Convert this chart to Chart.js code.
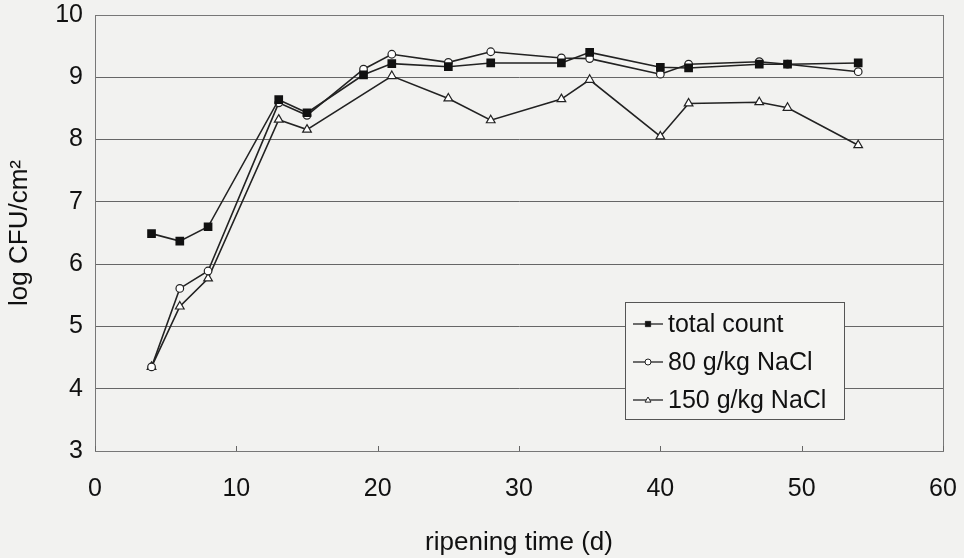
<!DOCTYPE html>
<html>
<head>
<meta charset="utf-8">
<script src="https://cdn.jsdelivr.net/npm/chart.js@4/dist/chart.umd.min.js"></script>
<style>
  html, body { margin: 0; padding: 0; background: #f2f2f0; }
  #wrap { width: 964px; height: 558px; position: relative; }
</style>
</head>
<body>
<div id="wrap"><canvas id="c" width="964" height="558"></canvas></div>
<script>
// ---- data ----
const seriesNames = ["total count", "80 g/kg NaCl", "150 g/kg NaCl"];
const daysTotal = [4, 6, 8, 13, 15, 19, 21, 25, 28, 33, 35, 40, 42, 47, 49, 54];
const totalCount = [6.49, 6.37, 6.60, 8.64, 8.43, 9.04, 9.22, 9.17, 9.23, 9.23, 9.40, 9.16, 9.15, 9.21, 9.21, 9.23];
const days80 = [4, 6, 8, 13, 15, 19, 21, 25, 28, 33, 35, 40, 42, 47, 49, 54];
const nacl80 = [4.35, 5.61, 5.89, 8.59, 8.39, 9.13, 9.37, 9.24, 9.41, 9.31, 9.30, 9.05, 9.21, 9.25, 9.21, 9.09];
const days150 = [4, 6, 8, 13, 15, 21, 25, 28, 33, 35, 40, 42, 47, 49, 54];
const nacl150 = [4.35, 5.32, 5.77, 8.32, 8.16, 9.02, 8.66, 8.31, 8.65, 8.96, 8.05, 8.58, 8.60, 8.51, 7.91];
const xTicks = [0, 10, 20, 30, 40, 50, 60];
const yTicks = [3, 4, 5, 6, 7, 8, 9, 10];
const xTitle = "ripening time (d)";
const yTitle = "log CFU/cm\u00B2";

const FONT = "'Liberation Sans', Arial, sans-serif";
const INK = "#222";

function pts(xs, ys) { return xs.map((x, i) => ({ x: x, y: ys[i] })); }

const bgPlugin = {
  id: 'bg',
  beforeDraw(chart) {
    const ctx = chart.ctx;
    ctx.save();
    ctx.fillStyle = '#f2f2f0';
    ctx.fillRect(0, 0, chart.width, chart.height);
    ctx.restore();
  },
  afterDatasetsDraw(chart) {
    const a = chart.chartArea, ctx = chart.ctx;
    ctx.save();
    ctx.strokeStyle = '#777';
    ctx.lineWidth = 1;
    ctx.strokeRect(a.left + 0.5, a.top + 0.5, a.right - a.left, a.bottom - a.top);
    const xs = chart.scales.x;
    ctx.strokeStyle = '#666';
    xTicks.forEach(v => {
      const px = Math.round(xs.getPixelForValue(v)) + 0.5;
      ctx.beginPath(); ctx.moveTo(px, a.bottom); ctx.lineTo(px, a.bottom - 5); ctx.stroke();
    });
    ctx.restore();
  }
};

const legendPlugin = {
  id: 'boxLegend',
  afterDraw(chart) {
    const ctx = chart.ctx;
    const bx = 625, by = 302, bw = 219, bh = 117;
    ctx.save();
    ctx.fillStyle = '#f4f4f2';
    ctx.fillRect(bx, by, bw, bh);
    ctx.strokeStyle = '#555';
    ctx.lineWidth = 1;
    ctx.strokeRect(bx + 0.5, by + 0.5, bw, bh);
    chart.data.datasets.forEach((ds, i) => {
      const cy = by + 22 + i * 38;
      ctx.strokeStyle = INK; ctx.lineWidth = 1.3;
      ctx.beginPath(); ctx.moveTo(633, cy); ctx.lineTo(663, cy); ctx.stroke();
      ctx.fillStyle = ds.pointBackgroundColor;
      ctx.strokeStyle = INK;
      ctx.lineWidth = 1;
      ctx.beginPath();
      const r = ds.pointStyle === 'rect' ? 3.5 : 3;
      if (ds.pointStyle === 'rect') { ctx.rect(648 - r*0.75, cy - r*0.75, r*1.5, r*1.5); }
      else if (ds.pointStyle === 'circle') { ctx.arc(648, cy, r, 0, Math.PI * 2); }
      else { ctx.moveTo(648, cy - r); ctx.lineTo(648 + r, cy + r*0.7); ctx.lineTo(648 - r, cy + r*0.7); ctx.closePath(); }
      ctx.fill(); ctx.stroke();
      ctx.fillStyle = '#111';
      ctx.font = '25px ' + FONT;
      ctx.textBaseline = 'middle';
      ctx.textAlign = 'left';
      ctx.fillText(ds.label, 668, cy + 1);
    });
    ctx.restore();
  }
};

new Chart(document.getElementById('c'), {
  type: 'line',
  data: {
    datasets: [
      { label: seriesNames[0], data: pts(daysTotal, totalCount), pointStyle: 'rect', pointRadius: 5,
        pointBackgroundColor: '#111', pointBorderColor: '#111', borderColor: INK, borderWidth: 1.6, tension: 0 },
      { label: seriesNames[1], data: pts(days80, nacl80), pointStyle: 'circle', pointRadius: 3.8,
        pointBackgroundColor: '#ffffff', pointBorderColor: INK, pointBorderWidth: 1.2, borderColor: INK, borderWidth: 1.6, tension: 0 },
      { label: seriesNames[2], data: pts(days150, nacl150), pointStyle: 'triangle', pointRadius: 5,
        pointBackgroundColor: '#ffffff', pointBorderColor: INK, pointBorderWidth: 1.2, borderColor: INK, borderWidth: 1.6, tension: 0 }
    ]
  },
  options: {
    responsive: false,
    animation: false,
    devicePixelRatio: 1,
    layout: { padding: { left: 0, right: 21, top: 15, bottom: 0 } },
    plugins: { legend: { display: false }, tooltip: { enabled: false } },
    scales: {
      x: {
        type: 'linear', min: 0, max: 60,
        afterBuildTicks(s) { s.ticks = xTicks.map(v => ({ value: v })); },
        afterFit(s) { s.height = 107; s.paddingLeft = 0; s.paddingRight = 0; },
        grid: { display: false, drawTicks: false },
        border: { display: true, color: '#777' },
        ticks: { color: '#111', padding: 23, maxRotation: 0, font: { family: FONT, size: 25 } },
        title: { display: true, text: xTitle, color: '#111', padding: { top: 0, bottom: 0 }, font: { family: FONT, size: 26 } }
      },
      y: {
        type: 'linear', min: 3, max: 10,
        afterBuildTicks(s) { s.ticks = yTicks.map(v => ({ value: v })); },
        afterFit(s) { s.width = 95; s.paddingTop = 0; s.paddingBottom = 0; },
        grid: { color: '#666', lineWidth: 1, drawTicks: false },
        border: { display: true, color: '#777' },
        ticks: { color: '#111', padding: 12, font: { family: FONT, size: 25 } },
        title: { display: true, text: yTitle, color: '#111', padding: { top: 4, bottom: 0 }, font: { family: FONT, size: 26 } }
      }
    }
  },
  plugins: [bgPlugin, legendPlugin]
});
</script>
</body>
</html>
